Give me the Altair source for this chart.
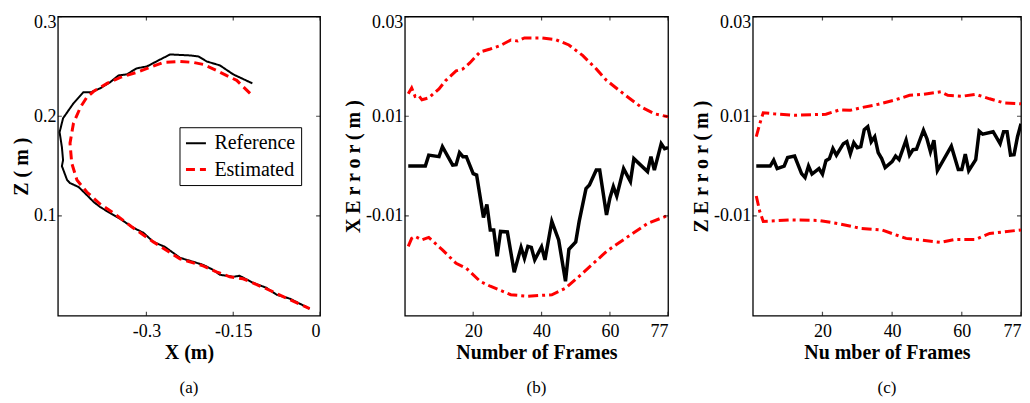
import altair as alt
import pandas as pd

FONT = "Liberation Serif"

# ---------------- Panel (a): trajectory ----------------
ref_x = [-0.117, -0.150, -0.173, -0.196, -0.210, -0.225, -0.259, -0.276, -0.299, -0.317,
         -0.334, -0.348, -0.363, -0.380, -0.396, -0.409, -0.426, -0.444, -0.450, -0.446,
         -0.444, -0.446, -0.437, -0.432, -0.417, -0.403, -0.391, -0.380, -0.363, -0.345,
         -0.325, -0.305, -0.288, -0.268, -0.242, -0.219, -0.202, -0.185, -0.173, -0.150,
         -0.139, -0.116, -0.093, -0.075, -0.052, -0.018]
ref_z = [0.233, 0.242, 0.251, 0.255, 0.260, 0.261, 0.262, 0.257, 0.250, 0.248,
         0.242, 0.241, 0.234, 0.228, 0.224, 0.224, 0.213, 0.198, 0.184, 0.169,
         0.156, 0.150, 0.136, 0.133, 0.129, 0.121, 0.114, 0.109, 0.103, 0.097,
         0.089, 0.083, 0.074, 0.069, 0.058, 0.054, 0.051, 0.046, 0.041, 0.039,
         0.040, 0.033, 0.028, 0.021, 0.017, 0.007]
est_x = [-0.121, -0.144, -0.162, -0.179, -0.202, -0.219, -0.242, -0.271, -0.294, -0.317,
         -0.345, -0.368, -0.391, -0.403, -0.414, -0.426, -0.432, -0.429, -0.420, -0.403,
         -0.380, -0.357, -0.325, -0.288, -0.242, -0.202, -0.179, -0.156, -0.133, -0.093,
         -0.052, -0.018]
est_z = [0.223, 0.236, 0.241, 0.246, 0.252, 0.254, 0.255, 0.254, 0.249, 0.244,
         0.239, 0.233, 0.225, 0.219, 0.209, 0.193, 0.173, 0.153, 0.136, 0.124,
         0.112, 0.103, 0.089, 0.074, 0.057, 0.050, 0.044, 0.039, 0.037, 0.027,
         0.016, 0.007]
series_names = ["Reference", "Estimated"]
a_xdom = [-0.453, 0.0]
a_ydom = [0.0, 0.3]
a_xticks = [-0.3, -0.15, 0.0]
a_xlabels = ["-0.3", "-0.15", "0"]
a_yticks = [0.3, 0.2, 0.1]
a_ylabels = ["0.3", "0.2", "0.1"]

# ---------------- Panel (b): X error ----------------
b_frames = [1, 6, 7, 10, 11, 14, 15, 16, 17, 18, 20, 21, 23, 24, 25, 26, 27, 28, 30, 32,
            34, 35, 36, 37, 38, 40, 41, 43, 45, 47, 48, 50, 51, 53, 54, 56, 57, 59, 60, 61,
            62, 64, 66, 67, 71, 72, 73, 75, 76, 77]
b_err = [0.0, 0.0, 0.0022, 0.0019, 0.0039, 0.0002, 0.0003, 0.0027, 0.0019, 0.0019,
         -0.0015, -0.0018, -0.0103, -0.0077, -0.0128, -0.0128, -0.0181, -0.0131, -0.0132, -0.0213,
         -0.0163, -0.0185, -0.0161, -0.0163, -0.0188, -0.0162, -0.0188, -0.0111, -0.0148, -0.0231,
         -0.0167, -0.0152, -0.0111, -0.0045, -0.0038, -0.0008, -0.0008, -0.0098, -0.0064, -0.0041,
         -0.0060, -0.0005, -0.0031, 0.0015, -0.0011, 0.0019, -0.0008, 0.0045, 0.0035, 0.0037]
b_up_frames = [1, 2, 3, 4, 5, 7, 10, 12, 15, 17, 19, 22, 25, 28, 31, 33, 35, 40, 44, 48,
               52, 56, 59, 64, 69, 73, 77]
b_up = [0.0145, 0.0157, 0.0140, 0.0142, 0.0133, 0.0137, 0.0155, 0.0172, 0.0191, 0.0195,
        0.0207, 0.0229, 0.0235, 0.0242, 0.0253, 0.0251, 0.0257, 0.0257, 0.0254, 0.0243,
        0.0222, 0.0195, 0.0172, 0.0145, 0.0119, 0.0105, 0.0099]
b_lo_frames = [1, 2, 3, 5, 7, 11, 15, 18, 22, 25, 31, 36, 43, 47, 52, 59, 66, 71, 77]
b_lo = [-0.0161, -0.0145, -0.0141, -0.0148, -0.0143, -0.0168, -0.0195, -0.0205, -0.0231, -0.0241,
        -0.0258, -0.0261, -0.0258, -0.0245, -0.0215, -0.0171, -0.0138, -0.0115, -0.0099]

# ---------------- Panel (c): Z error ----------------
c_frames = [1, 5, 6, 7, 9, 10, 12, 14, 15, 16, 17, 19, 20, 21, 22, 23, 24, 26, 27, 28,
            29, 30, 31, 32, 33, 34, 35, 36, 37, 38, 40, 41, 42, 44, 45, 46, 47, 49, 50, 51,
            52, 53, 57, 59, 60, 61, 62, 64, 65, 66, 69, 71, 72, 73, 74, 75, 76, 77]
c_err = [0.0, 0.0, 0.0012, -0.0005, 0.0, 0.0017, 0.0020, -0.0015, -0.0023, 0.0,
         -0.0016, -0.0005, -0.0016, 0.0011, 0.0015, 0.0035, 0.0022, 0.0045, 0.0049, 0.0025,
         0.0047, 0.0037, 0.0039, 0.0073, 0.0079, 0.0049, 0.0059, 0.0027, 0.0015, -0.0003,
         0.0009, 0.0020, 0.0013, 0.0052, 0.0022, 0.0033, 0.0034, 0.0072, 0.0055, 0.0029,
         0.0052, -0.0009, 0.0040, -0.0007, -0.0007, 0.0024, -0.0009, 0.0013, 0.0070, 0.0064,
         0.0069, 0.0045, 0.0069, 0.0069, 0.0022, 0.0023, 0.0059, 0.0085]
c_up_frames = [1, 2, 3, 6, 12, 21, 25, 28, 31, 36, 41, 45, 49, 54, 56, 60, 64, 68, 72, 77]
c_up = [0.0059, 0.0085, 0.0107, 0.0105, 0.0102, 0.0104, 0.0113, 0.0112, 0.0117, 0.0124,
        0.0133, 0.0142, 0.0144, 0.0149, 0.0142, 0.0140, 0.0144, 0.0135, 0.0127, 0.0125]
c_lo_frames = [1, 2, 3, 11, 19, 25, 31, 37, 44, 54, 58, 64, 68, 77]
c_lo = [-0.0060, -0.0091, -0.0111, -0.0108, -0.0109, -0.0116, -0.0125, -0.0128, -0.0145, -0.0153,
        -0.0147, -0.0147, -0.0135, -0.0128]

err_xdom = [0, 77]
err_ydom = [-0.03, 0.03]
err_xticks = [20, 40, 60, 77]
err_yticks = [0.03, 0.01, -0.01]
err_ylabels = ["0.03", "0.01", "-0.01"]


def label_expr(vals, labs):
    expr = "''"
    for v, l in reversed(list(zip(vals, labs))):
        expr = f"abs(datum.value - ({v})) < 1e-9 ? '{l}' : " + expr
    return expr


def inward_ticks(xf, yf, xticks, yticks, xdom, ydom):
    xt = pd.DataFrame({xf: [v for v in xticks for _ in (0, 1)],
                       yf: [ydom[0], ydom[1]] * len(xticks)})
    yt = pd.DataFrame({xf: [xdom[0], xdom[1]] * len(yticks),
                       yf: [v for v in yticks for _ in (0, 1)]})
    lx = alt.Chart(xt).mark_tick(orient="vertical", size=8, thickness=1.2,
                                 color="black", clip=True).encode(x=f"{xf}:Q", y=f"{yf}:Q")
    ly = alt.Chart(yt).mark_tick(orient="horizontal", size=8, thickness=1.2,
                                 color="black", clip=True).encode(x=f"{xf}:Q", y=f"{yf}:Q")
    return [lx, ly]


def caption(txt):
    return alt.TitleParams(txt, orient="bottom", font=FONT, fontSize=17,
                           fontWeight="normal", color="black", offset=18)


# ----- Panel (a) -----
traj = pd.DataFrame({
    "X": ref_x + est_x,
    "Z": ref_z + est_z,
    "series": [series_names[0]] * len(ref_x) + [series_names[1]] * len(est_x),
    "idx": list(range(len(ref_x))) + list(range(len(est_x))),
})
a_lines = alt.Chart(traj).mark_line(clip=True).encode(
    x=alt.X("X:Q", scale=alt.Scale(domain=a_xdom, nice=False, zero=False),
            axis=alt.Axis(values=a_xticks, labelExpr=label_expr(a_xticks, a_xlabels),
                          title="X (m)")),
    y=alt.Y("Z:Q", scale=alt.Scale(domain=a_ydom, nice=False, zero=False),
            axis=alt.Axis(values=a_yticks, labelExpr=label_expr(a_yticks, a_ylabels),
                          title="Z ( m )")),
    color=alt.Color("series:N", scale=alt.Scale(domain=series_names, range=["black", "red"]),
                    legend=alt.Legend(orient="none", legendX=122, legendY=111, title=None,
                                      fillColor="white", strokeColor="black", padding=5,
                                      cornerRadius=0, labelFont=FONT, labelFontSize=20,
                                      labelColor="black", labelOffset=7, symbolType="stroke",
                                      symbolSize=400, symbolStrokeWidth=3, rowPadding=5)),
    strokeDash=alt.StrokeDash("series:N", scale=alt.Scale(domain=series_names,
                                                          range=[[1, 0], [9, 5]]),
                              legend=None),
    strokeWidth=alt.StrokeWidth("series:N", scale=alt.Scale(domain=series_names, range=[2, 3]),
                                legend=None),
    order=alt.Order("idx:Q"),
)
pa = alt.layer(a_lines, *inward_ticks("X", "Z", a_xticks, a_yticks, a_xdom, a_ydom)).properties(
    width=263, height=300, title=caption("(a)"))


def err_panel(frames, err, upf, up, lof, lo, ytitle, xtitle, width, cap):
    df = pd.DataFrame({"frame": frames, "err": err})
    dup = pd.DataFrame({"frame": upf, "err": up})
    dlo = pd.DataFrame({"frame": lof, "err": lo})
    xenc = alt.X("frame:Q", scale=alt.Scale(domain=err_xdom, nice=False, zero=False),
                 axis=alt.Axis(values=err_xticks, format="d", title=xtitle))
    yenc = alt.Y("err:Q", scale=alt.Scale(domain=err_ydom, nice=False, zero=False),
                 axis=alt.Axis(values=err_yticks, labelExpr=label_expr(err_yticks, err_ylabels),
                               title=ytitle))
    black = alt.Chart(df).mark_line(color="black", strokeWidth=3.5, clip=True).encode(x=xenc, y=yenc)
    upper = alt.Chart(dup).mark_line(color="red", strokeWidth=3, strokeDash=[10, 4, 3, 4],
                                     clip=True).encode(x="frame:Q", y="err:Q")
    lower = alt.Chart(dlo).mark_line(color="red", strokeWidth=3, strokeDash=[10, 4, 3, 4],
                                     clip=True).encode(x="frame:Q", y="err:Q")
    ticks = inward_ticks("frame", "err", err_xticks, err_yticks, err_xdom, err_ydom)
    return alt.layer(black, upper, lower, *ticks).properties(width=width, height=300,
                                                            title=caption(cap))


pb = err_panel(b_frames, b_err, b_up_frames, b_up, b_lo_frames, b_lo,
               "X E r r o r ( m )", "Number of Frames", 264, "(b)")
pc = err_panel(c_frames, c_err, c_up_frames, c_up, c_lo_frames, c_lo,
               "Z E r r o r ( m )", "Nu mber of Frames", 269, "(c)")

chart = alt.hconcat(pa, pb, pc, spacing=85, bounds="flush").properties(
    padding={"left": 2, "top": 4, "right": 0, "bottom": 0}
).configure_view(
    stroke="black", strokeWidth=1.3
).configure_axis(
    domain=False, ticks=False, grid=False,
    labelFont=FONT, labelFontSize=18, labelColor="black", labelPadding=7,
    titleFont=FONT, titleFontSize=20, titleFontWeight="bold", titleColor="black",
    titlePadding=2
).configure_axisY(
    labelPadding=2, titlePadding=2, labelFlush=True, labelFlushOffset=3
)

chart.save("out.html", embed_options={"renderer": "svg", "actions": False})
